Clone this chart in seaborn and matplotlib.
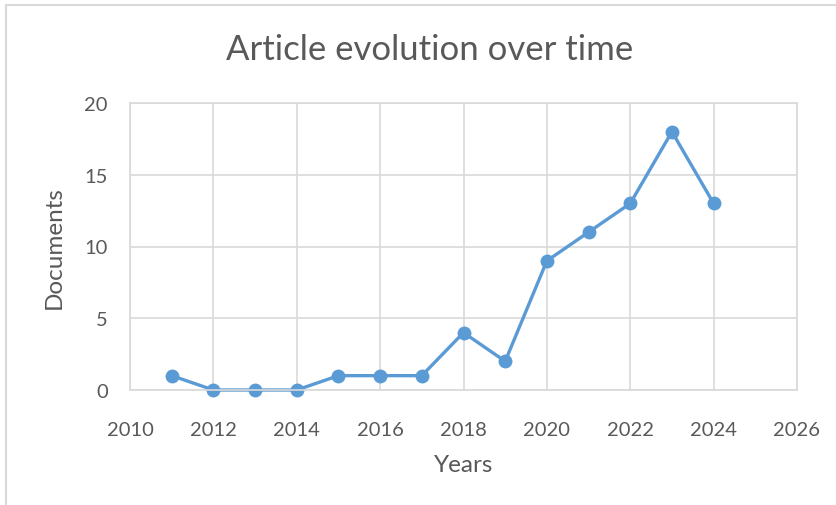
import matplotlib
matplotlib.use("Agg")
import matplotlib.pyplot as plt
import matplotlib.patches as mpatches
import seaborn as sns
import pandas as pd

years = [2011, 2012, 2013, 2014, 2015, 2016, 2017, 2018, 2019, 2020, 2021, 2022, 2023, 2024]
documents = [1, 0, 0, 0, 1, 1, 1, 4, 2, 9, 11, 13, 18, 13]

df = pd.DataFrame({"Years": years, "Documents": documents})

sns.set_style("white")
plt.rcParams["font.family"] = ["Lato", "DejaVu Sans"]

fig = plt.figure(figsize=(8.37, 5.06), dpi=100)
ax = fig.add_axes([130 / 837, 1 - 391 / 506, (797 - 130) / 837, (391 - 104) / 506])

# outer chart border (cut off at right and bottom like the reference)
fig.patches.append(mpatches.Rectangle((6 / 837, -0.1), 1.2, 1 - 6 / 506 + 0.1,
                                      transform=fig.transFigure, fill=False,
                                      edgecolor="#d9d9d9", linewidth=1.5))

sns.lineplot(data=df, x="Years", y="Documents", ax=ax, color="#5b9bd5",
             linewidth=2.4, marker="o", markersize=10, markeredgewidth=0)
for ln in ax.lines:
    ln.set_clip_on(False)

ax.set_xlim(2010, 2026)
ax.set_ylim(0, 20)
ax.set_xticks(range(2010, 2027, 2))
ax.set_yticks(range(0, 21, 5))
ax.grid(True, color="#d9d9d9", linewidth=1.2)
ax.set_axisbelow(True)
for s in ax.spines.values():
    s.set_color("#d9d9d9")
    s.set_linewidth(1.2)
ax.tick_params(axis="both", length=0, labelsize=14.5, labelcolor="#595959")
ax.tick_params(axis="x", pad=22)
ax.tick_params(axis="y", pad=16)
ax.set_xlabel("Years", fontsize=17.5, color="#595959", labelpad=12)
ax.set_ylabel("Documents", fontsize=17.5, color="#595959", labelpad=14)
fig.text(430 / 837, 1 - 50 / 506, "Article evolution over time", ha="center", va="center",
         fontsize=25, color="#595959")

fig.savefig("out.png", dpi=100)
